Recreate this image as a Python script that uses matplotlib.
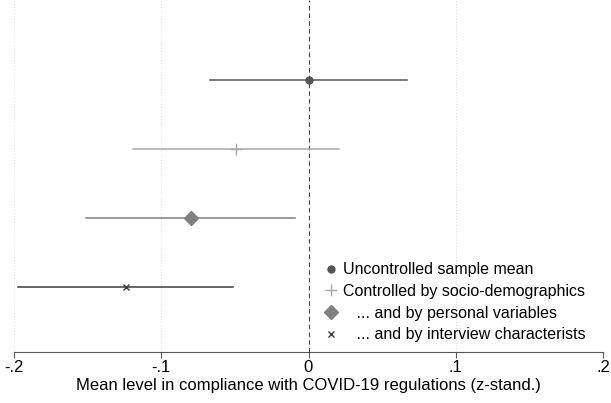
import matplotlib
matplotlib.use("Agg")
import matplotlib.pyplot as plt

plt.rcParams["font.family"] = ["Liberation Sans", "DejaVu Sans"]

labels = ["Uncontrolled sample mean",
          "Controlled by socio-demographics",
          "   ... and by personal variables",
          "   ... and by interview characterists"]
means = [0.0, -0.049, -0.080, -0.124]
lower = [-0.067, -0.119, -0.151, -0.197]
upper = [0.067, 0.021, -0.009, -0.051]
markers = ["o", "+", "D", "x"]
colors = ["#555555", "#a8a8a8", "#808080", "#3c3c3c"]
msizes = [5, 8, 7, 5]
ticks = [-0.2, -0.1, 0, 0.1, 0.2]
ticklabels = ["-.2", "-.1", "0", ".1", ".2"]

fig = plt.figure(figsize=(6.11, 4.03), dpi=100)
ax = fig.add_axes([14 / 611, 51 / 403, 589 / 611, 352 / 403])

for xt in ticks:
    ax.axvline(xt, color="#dcdcdc", lw=0.8, ls=":", zorder=0)
ax.axvline(0, color="#444444", lw=0.8, ls=(0, (4, 3)), zorder=1)

for i in range(len(means)):
    y = i + 1
    ax.plot([lower[i], upper[i]], [y, y], color=colors[i], lw=1.1, zorder=2)
    ax.plot(means[i], y, marker=markers[i], color=colors[i], ls="none",
            ms=msizes[i], mew=1.0, label=labels[i], zorder=3)

ax.set_xlim(-0.2, 0.2)
ax.set_ylim(4.94, -0.16)
ax.set_xticks(ticks)
ax.set_xticklabels(ticklabels, fontsize=12)
ax.set_yticks([])
for s in ["left", "right", "top"]:
    ax.spines[s].set_visible(False)
ax.spines["bottom"].set_color("#555555")
ax.tick_params(axis="x", length=4, color="#555555", pad=2)
ax.set_xlabel("Mean level in compliance with COVID-19 regulations (z-stand.)",
              fontsize=12, labelpad=2)

ax.legend(loc="lower left", bbox_to_anchor=(0.513, 0.0), frameon=False,
          fontsize=11.5, handlelength=0.6, handletextpad=0.5, labelspacing=0.42,
          borderaxespad=0.2)

fig.savefig("out.png", dpi=100)
